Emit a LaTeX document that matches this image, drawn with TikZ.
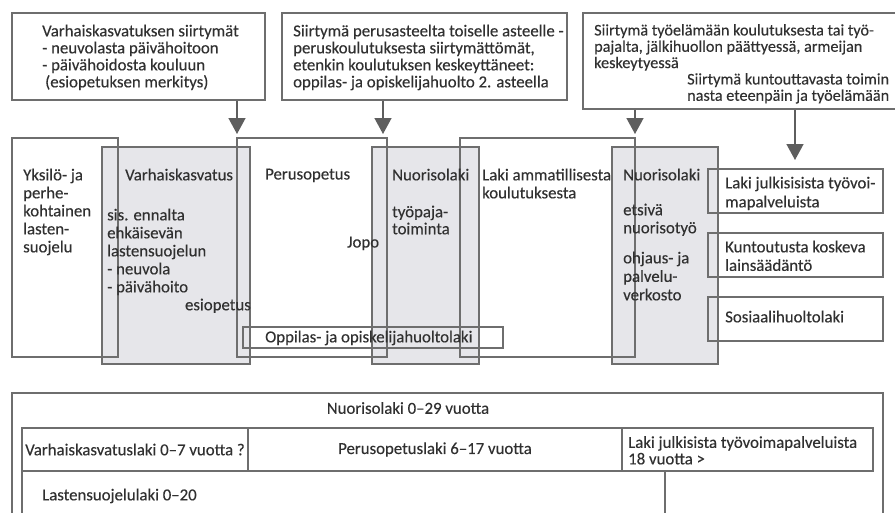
\documentclass[tikz,border=0pt]{standalone}
\usepackage{fontspec}
\setmainfont{Carlito}[FakeBold=0.25]
\usetikzlibrary{fit,arrows.meta}
\definecolor{ln}{HTML}{6E6E6E}
\definecolor{gr}{HTML}{E6E6EA}
\definecolor{tx}{HTML}{303030}
\definecolor{ar}{HTML}{5E5E5E}
\begin{document}
\begin{tikzpicture}[x=1pt,y=-1pt,
  frame/.style={draw=ln, line width=1.4pt, inner sep=0pt},
  shade/.style={fill=gr, inner sep=0pt},
  txt/.style={inner sep=0pt, align=left, anchor=north west, text=tx,
     font=\fontsize{16.8}{17}\selectfont},
  ctxt/.style={inner sep=0pt, text=tx, font=\fontsize{16.8}{17}\selectfont},
  arr/.style={draw=ar, line width=1.5pt, -{Triangle[width=17pt,length=16pt]}, color=ar}]
\useasboundingbox (0,0) rectangle (895,512);
\clip (0,0) rectangle (895,512);
\fill[white] (0,0) rectangle (895,512);

% top boxes
\node[frame, fit={(12,13) (265,100)}] (b1) {};
\node[frame, fit={(282,13) (567,100)}] (b2) {};
\node[frame, fit={(583,13) (905,109)}] (b3) {};

\node[txt] (t1) at (42,24.5) {Varhaiskasvatuksen siirtymät\\- neuvolasta päivähoitoon\\- päivähoidosta kouluun\\\hspace*{3pt}(esiopetuksen merkitys)};
\node[txt] (t2) at (293,24.5) {Siirtymä perusasteelta toiselle asteelle -\\peruskoulutuksesta siirtymättömät,\\etenkin koulutuksen keskeyttäneet:\\oppilas- ja opiskelijahuolto 2. asteella};
\node[txt, font=\fontsize{16.2}{16.3}\selectfont] (t3) at (594,24) {Siirtymä työelämään koulutuksesta tai työ-\\pajalta, jälkihuollon päättyessä, armeijan\\keskeytyessä};
\node[txt, font=\fontsize{16.2}{16.3}\selectfont] (t3b) at (687,73) {Siirtymä kuntouttavasta toimin\\nasta eteenpäin ja työelämään};

% middle shaded boxes
\node[shade, fit={(102,147) (250,364)}] (sB) {};
\node[shade, fit={(372,147) (479,364)}] (sD) {};
\node[shade, fit={(612,147) (718,364)}] (sF) {};

% middle outlines
\node[frame, fit={(12,138) (118,357)}] (mA) {};
\node[frame, fit={(102,147) (250,364)}] (mB) {};
\node[frame, fit={(237,138) (387,357)}] (mC) {};
\node[frame, fit={(372,147) (479,364)}] (mD) {};
\node[frame, fit={(460,138) (635,357)}] (mE) {};
\node[frame, fit={(612,147) (718,364)}] (mF) {};
\node[frame, fit={(243,327) (503,348)}] (op) {};

\node[frame, fit={(708,169) (883,213)}] (rG) {};
\node[frame, fit={(708,233) (883,277)}] (rH) {};
\node[frame, fit={(708,297) (883,341)}] (rI) {};

% arrows
\coordinate (a1) at (237,134);
\coordinate (a2) at (383,134);
\coordinate (a3) at (635,134);
\coordinate (a4) at (795,160);
\draw[arr] (b1.south -| a1) -- (a1);
\draw[arr] (b2.south -| a2) -- (a2);
\draw[arr] (b3.south -| a3) -- (a3);
\draw[arr] (b3.south -| a4) -- (a4);

% middle texts
\node[txt, font=\fontsize{16.8}{18}\selectfont] (xA) at (23,168.5) {Yksilö- ja\\perhe-\\kohtainen\\lasten-\\suojelu};
\node[txt] (xB) at (125,168.5) {Varhaiskasvatus};
\node[txt, font=\fontsize{16.8}{18}\selectfont] (xB2) at (107,208.5) {sis. ennalta\\ehkäisevän\\lastensuojelun\\- neuvola\\- päivähoito};
\node[ctxt, anchor=north east] (xB3) at (251,298.5) {esiopetus};
\node[txt] (xC) at (265,168.5) {Perusopetus};
\node[txt] (xC2) at (347,236.5) {Jopo};
\node[txt] (xD) at (392,168.5) {Nuorisolaki};
\node[txt] (xD2) at (392,205.5) {työpaja-\\toiminta};
\node[txt, font=\fontsize{16.8}{18}\selectfont] (xE) at (482,168.5) {Laki ammatillisesta\\koulutuksesta};
\node[txt] (xF) at (623,168.5) {Nuorisolaki};
\node[txt, font=\fontsize{16.8}{18}\selectfont] (xF2) at (623,203.5) {etsivä\\nuorisotyö};
\node[txt, font=\fontsize{16.8}{18.5}\selectfont] (xF3) at (623,251.5) {ohjaus- ja\\palvelu-\\verkosto};
\node[txt, font=\fontsize{16.8}{19}\selectfont] (xG) at (725,176.5) {Laki julkisisista työvoi-\\mapalveluista};
\node[txt, font=\fontsize{16.8}{18.5}\selectfont] (xH) at (725,240.5) {Kuntoutusta koskeva\\lainsäädäntö};
\node[txt] (xI) at (725,310.5) {Sosiaalihuoltolaki};
\node[txt] (xop) at (265,330.5) {Oppilas- ja opiskelijahuoltolaki};

% bottom table
\node[frame, fit={(12,393) (883,530)}] (tb) {};
\node[frame, fit={(22,428) (248,471)}] (c1) {};
\node[frame, fit={(248,428) (622,471)}] (c2) {};
\node[frame, fit={(622,428) (873,471)}] (c3) {};
\node[frame, fit={(22,471) (665,530)}] (c4) {};

\node[ctxt] (n0) at (408,408) {Nuorisolaki 0–29 vuotta};
\node[ctxt] (n1) at (c1.center) {Varhaiskasvatuslaki 0–7 vuotta ?};
\node[ctxt] (n2) at (c2.center) {Perusopetuslaki 6–17 vuotta};
\node[txt, font=\fontsize{16.8}{16.5}\selectfont] (n3) at (628,436) {Laki julkisista työvoimapalveluista\\18 vuotta >};
\node[txt] (n4) at (42,488.5) {Lastensuojelulaki 0–20};
\end{tikzpicture}
\end{document}
